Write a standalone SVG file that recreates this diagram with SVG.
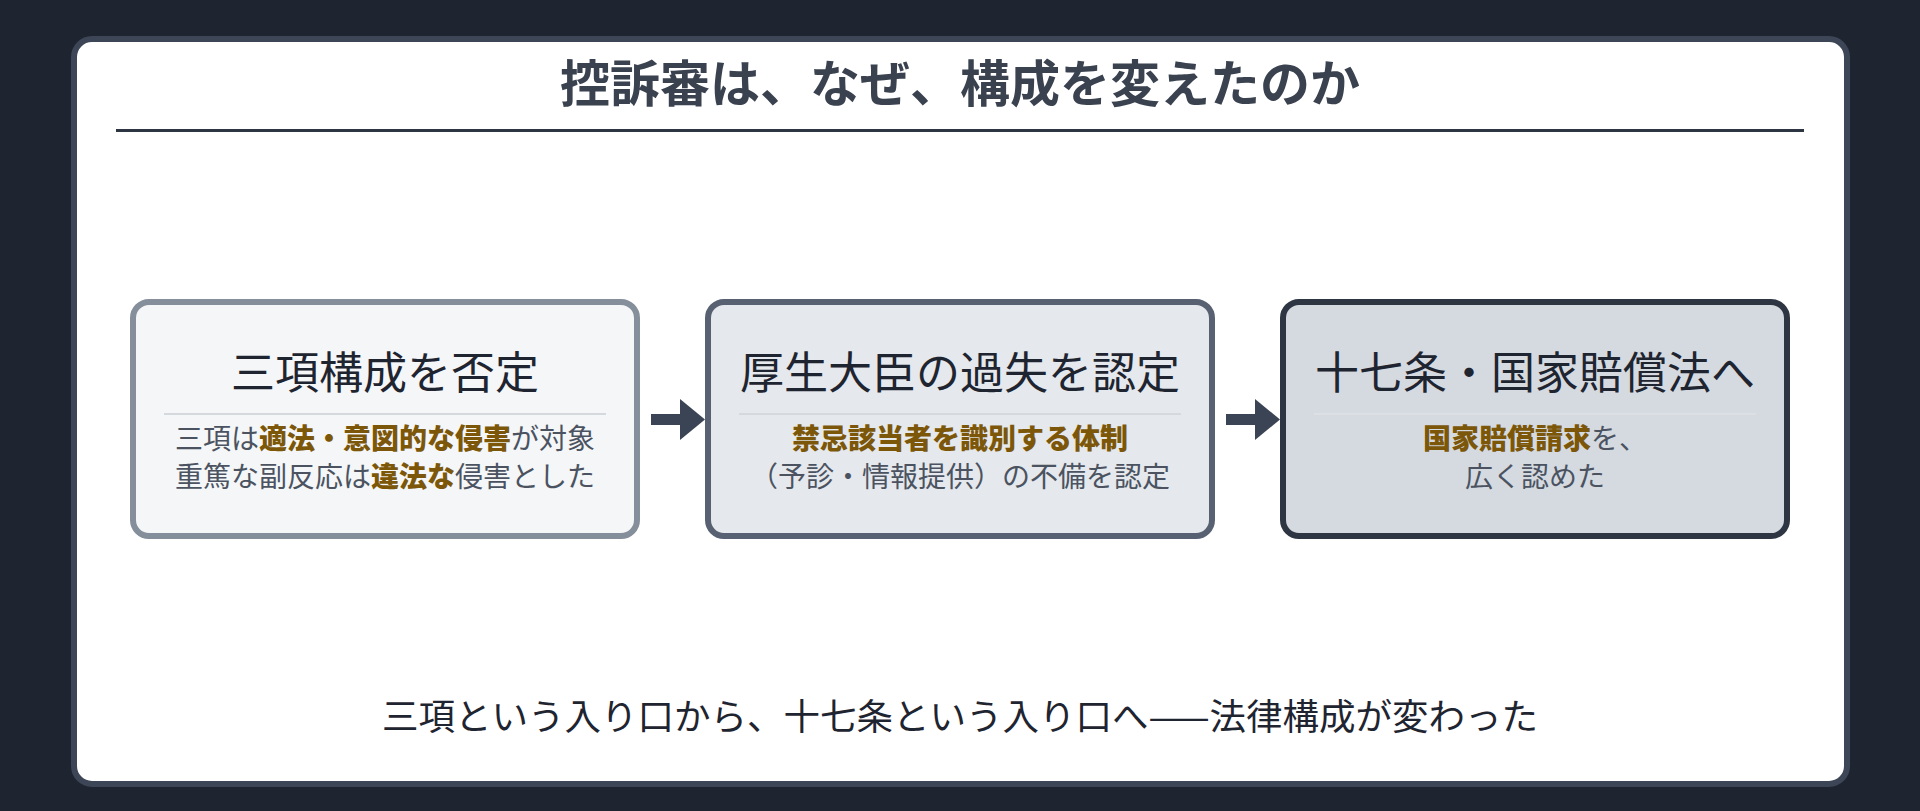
<svg xmlns="http://www.w3.org/2000/svg" width="1920" height="811" viewBox="0 0 1920 811">
  <defs>
    <style>
      .jp { font-family: "Noto Sans CJK JP", "Noto Sans", sans-serif; }
      .title { font-size: 50px; font-weight: 700; fill: #3a4250; }
      .head { font-size: 44px; font-weight: 400; fill: #1f2530; }
      .sub { font-size: 28px; font-weight: 400; fill: #4b5361; }
      .hl { font-weight: 900; fill: #7c5709; }
      .foot { font-size: 36.5px; font-weight: 400; fill: #1f2530; }
      .box { stroke-width: 6; }
      .div { stroke: #d5d8dc; stroke-width: 2; }
      .shaft { stroke: #3b4454; stroke-width: 11; fill: none; }
    </style>
    <marker id="ah" viewBox="0 0 25 41" refX="0" refY="20.5" markerWidth="25" markerHeight="41" markerUnits="userSpaceOnUse" orient="auto">
      <path d="M0,0 L25,20.5 L0,41 Z" fill="#3b4454"/>
    </marker>
  </defs>

  <rect x="0" y="0" width="1920" height="811" fill="#1e2530"/>
  <rect x="74" y="39" width="1773" height="745" rx="18" ry="18" fill="#ffffff" stroke="#3d4656" stroke-width="6"/>

  <g id="title">
    <text class="jp title" x="960" y="102" text-anchor="middle">控訴審は、なぜ、構成を変えたのか</text>
    <line x1="116" y1="130.5" x2="1804" y2="130.5" stroke="#2d3442" stroke-width="3"/>
  </g>

  <g id="connectors">
    <line class="shaft" x1="651" y1="419.5" x2="680" y2="419.5" marker-end="url(#ah)"/>
    <line class="shaft" x1="1226" y1="419.5" x2="1255" y2="419.5" marker-end="url(#ah)"/>
  </g>

  <g id="node1">
    <rect class="box" x="133" y="302" width="504" height="234" rx="16" ry="16" fill="#f4f6f8" stroke="#858e9b"/>
    <text class="jp head" x="385" y="389" text-anchor="middle">三項構成を否定</text>
    <line class="div" x1="164" y1="414" x2="606" y2="414"/>
    <text class="jp sub" x="385" y="449" text-anchor="middle">三項は<tspan class="hl">適法・意図的な侵害</tspan>が対象</text>
    <text class="jp sub" x="385" y="487" text-anchor="middle">重篤な副反応は<tspan class="hl">違法な</tspan>侵害とした</text>
  </g>

  <g id="node2">
    <rect class="box" x="708" y="302" width="504" height="234" rx="16" ry="16" fill="#e5e8ec" stroke="#576171"/>
    <text class="jp head" x="960" y="389" text-anchor="middle">厚生大臣の過失を認定</text>
    <line class="div" x1="739" y1="414" x2="1181" y2="414"/>
    <text class="jp sub hl" x="960" y="449" text-anchor="middle">禁忌該当者を識別する体制</text>
    <text class="jp sub" x="960" y="487" text-anchor="middle">（予診・情報提供）の不備を認定</text>
  </g>

  <g id="node3">
    <rect class="box" x="1283" y="302" width="504" height="234" rx="16" ry="16" fill="#d5dae1" stroke="#2e3644"/>
    <text class="jp head" x="1535" y="389" text-anchor="middle">十七条・国家賠償法へ</text>
    <line class="div" x1="1314" y1="414" x2="1756" y2="414" style="stroke:#dcdfe3"/>
    <text class="jp sub" x="1535" y="449" text-anchor="middle"><tspan class="hl">国家賠償請求</tspan>を、</text>
    <text class="jp sub" x="1535" y="487" text-anchor="middle">広く認めた</text>
  </g>

  <g id="footer">
    <text class="jp foot" x="960" y="730" text-anchor="middle">三項という入り口から、十七条という入り口へ——法律構成が変わった</text>
  </g>
</svg>
